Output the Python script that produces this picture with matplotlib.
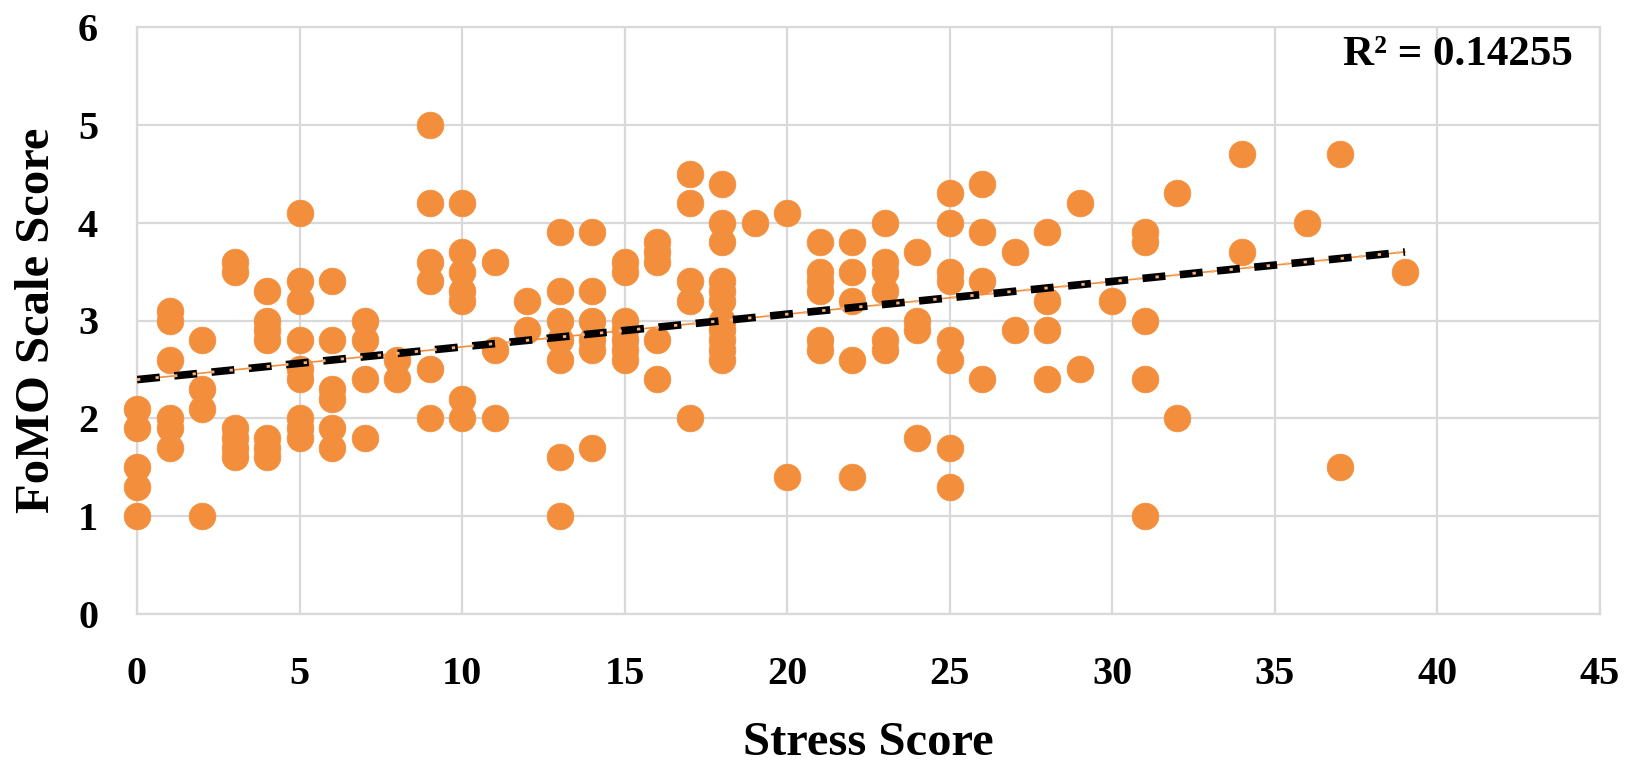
import numpy as np
import matplotlib.pyplot as plt

# Stress score (x) and FoMO scale score (y) for every respondent
stress_score = [0, 0, 0, 0, 0,
                1, 1, 1, 1, 1, 1,
                2, 2, 2, 2,
                3, 3, 3, 3, 3, 3,
                4, 4, 4, 4, 4, 4, 4,
                5, 5, 5, 5, 5, 5, 5, 5, 5,
                6, 6, 6, 6, 6, 6,
                7, 7, 7, 7,
                8, 8,
                9, 9, 9, 9, 9, 9,
                10, 10, 10, 10, 10, 10, 10,
                11, 11, 11,
                12, 12,
                13, 13, 13, 13, 13, 13, 13,
                14, 14, 14, 14, 14, 14,
                15, 15, 15, 15, 15, 15, 15,
                16, 16, 16, 16, 16,
                17, 17, 17, 17, 17,
                18, 18, 18, 18, 18, 18, 18, 18, 18, 18, 18,
                19,
                20, 20,
                21, 21, 21, 21, 21, 21,
                22, 22, 22, 22, 22,
                23, 23, 23, 23, 23, 23,
                24, 24, 24, 24,
                25, 25, 25, 25, 25, 25, 25, 25,
                26, 26, 26, 26,
                27, 27,
                28, 28, 28, 28,
                29, 29,
                30,
                31, 31, 31, 31, 31,
                32, 32,
                34, 34,
                36,
                37, 37,
                39]
fomo_score = [2.1, 1.9, 1.5, 1.3, 1.0,
              3.1, 3.0, 2.6, 2.0, 1.9, 1.7,
              2.8, 2.3, 2.1, 1.0,
              3.6, 3.5, 1.9, 1.8, 1.7, 1.6,
              3.3, 3.0, 2.9, 2.8, 1.8, 1.7, 1.6,
              4.1, 3.4, 3.2, 2.8, 2.5, 2.4, 2.0, 1.9, 1.8,
              3.4, 2.8, 2.3, 2.2, 1.9, 1.7,
              3.0, 2.8, 2.4, 1.8,
              2.6, 2.4,
              5.0, 4.2, 3.6, 3.4, 2.5, 2.0,
              4.2, 3.7, 3.5, 3.3, 3.2, 2.2, 2.0,
              3.6, 2.7, 2.0,
              3.2, 2.9,
              3.9, 3.3, 3.0, 2.8, 2.6, 1.6, 1.0,
              3.9, 3.3, 3.0, 2.8, 2.7, 1.7,
              3.6, 3.5, 3.0, 2.9, 2.8, 2.7, 2.6,
              3.8, 3.7, 3.6, 2.8, 2.4,
              4.5, 4.2, 3.4, 3.2, 2.0,
              4.4, 4.0, 3.8, 3.4, 3.3, 3.2, 3.0, 2.9, 2.8, 2.7, 2.6,
              4.0,
              4.1, 1.4,
              3.8, 3.5, 3.4, 3.3, 2.8, 2.7,
              3.8, 3.5, 3.2, 2.6, 1.4,
              4.0, 3.6, 3.5, 3.3, 2.8, 2.7,
              3.7, 3.0, 2.9, 1.8,
              4.3, 4.0, 3.5, 3.4, 2.8, 2.6, 1.7, 1.3,
              4.4, 3.9, 3.4, 2.4,
              3.7, 2.9,
              3.9, 3.2, 2.9, 2.4,
              4.2, 2.5,
              3.2,
              3.9, 3.8, 3.0, 2.4, 1.0,
              4.3, 2.0,
              4.7, 3.7,
              4.0,
              4.7, 1.5,
              3.5]
r2_label = 'R² = 0.14255'
x_ticks = [0, 5, 10, 15, 20, 25, 30, 35, 40, 45]
y_ticks = [0, 1, 2, 3, 4, 5, 6]

plt.rcParams['font.family'] = ['Liberation Serif', 'DejaVu Serif']
plt.rcParams['font.weight'] = 'bold'

orange = '#F28E3C'
grid_c = '#D9D9D9'

fig = plt.figure(figsize=(16.28, 7.67), dpi=100)
# plot area: x 137..1600 px, y 27..614 px
ax = fig.add_axes([137 / 1628, 1 - 614 / 767, 1463 / 1628, 587 / 767])

# scatter points
ax.scatter(stress_score, fomo_score, s=370, color=orange, edgecolors=orange,
           linewidths=0.5, zorder=3, clip_on=False)

# linear trendline fitted to the data
x = np.array(stress_score, dtype=float)
y = np.array(fomo_score, dtype=float)
slope, intercept = np.polyfit(x, y, 1)
tx = np.array([x.min(), x.max()])
ty = intercept + slope * tx
ax.plot(tx, ty, color=orange, lw=1.2, zorder=4)
ax.plot(tx, ty, color='black', lw=5.5, dashes=(3.0, 1.9), zorder=5)
ax.plot(tx, ty, color='#F6B27A', lw=2.0, dashes=(1.2, 5.5), zorder=6)

ax.text(0.9815, 0.984, r2_label, transform=ax.transAxes, ha='right', va='top',
        fontsize=31, fontweight='bold')

ax.set_xlim(0, 45)
ax.set_ylim(0, 6)
ax.set_xticks(x_ticks)
ax.set_yticks(y_ticks)
ax.tick_params(length=0, labelsize=29)
ax.tick_params(axis='x', pad=30)
ax.tick_params(axis='y', pad=28)
ax.grid(True, color=grid_c, lw=1.6)
ax.set_axisbelow(True)
for sp in ax.spines.values():
    sp.set_color(grid_c)
    sp.set_linewidth(1.6)

ax.set_xlabel('Stress Score', fontsize=35, fontweight='bold')
ax.xaxis.label.set_va('baseline')
ax.xaxis.set_label_coords(0.5, (614 - 755) / 587)
ax.set_ylabel('FoMO Scale Score', fontsize=35, fontweight='bold')
ax.yaxis.label.set_va('center')
ax.yaxis.set_label_coords((37 - 137) / 1463, 0.5)

fig.savefig('out.png', dpi=100)
